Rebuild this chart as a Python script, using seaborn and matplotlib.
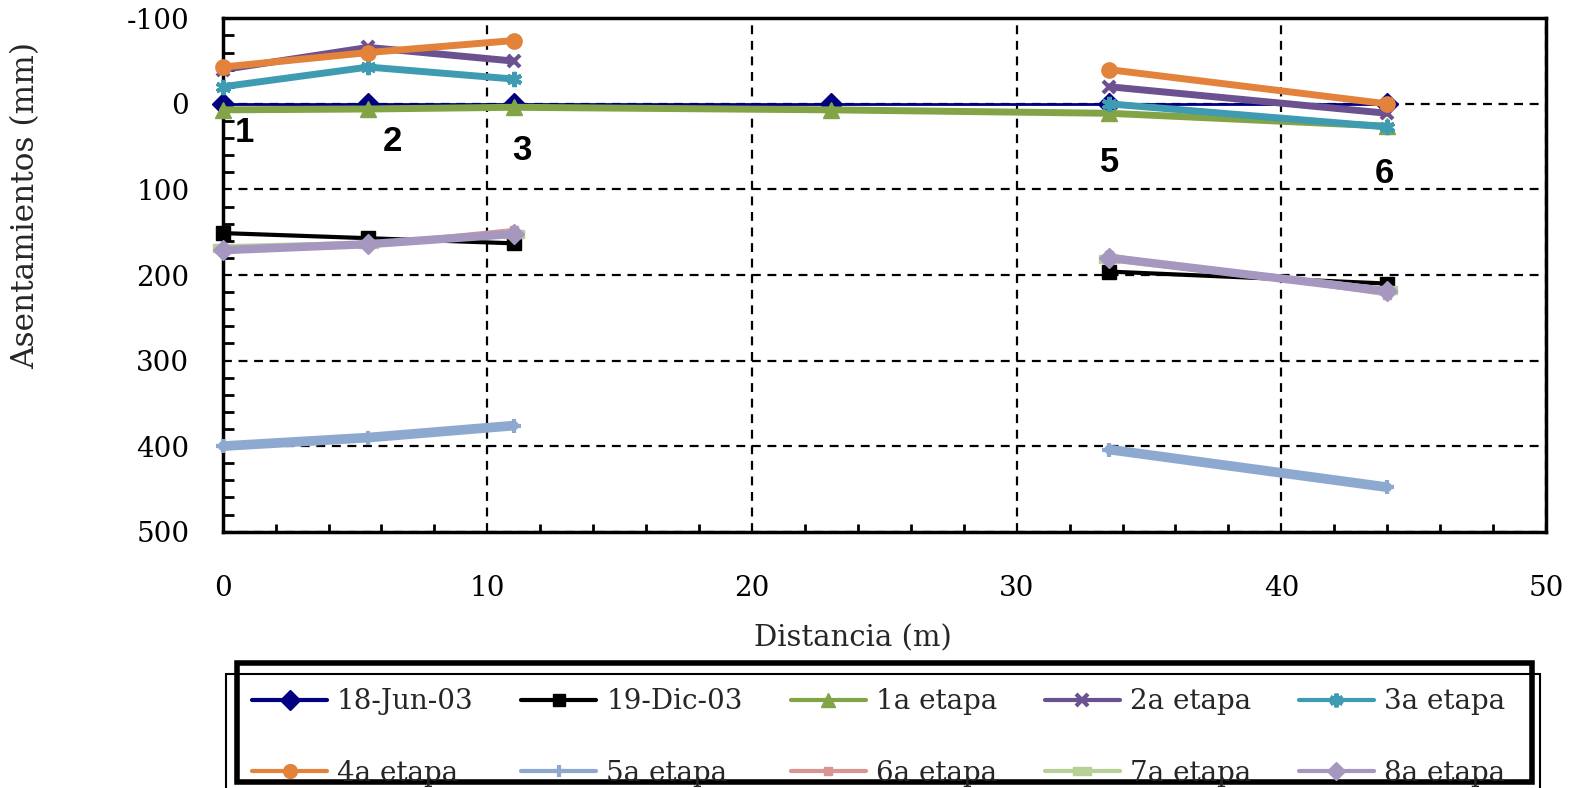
import numpy as np
import pandas as pd
import matplotlib
matplotlib.use("Agg")
import matplotlib.pyplot as plt
import seaborn as sns
from matplotlib.lines import Line2D
from matplotlib.patches import Rectangle
from matplotlib.path import Path

# ---------------- data ----------------
distancia = [0.0, 5.5, 11.0, 23.0, 33.5, 44.0]
nan = np.nan
s_18jun = [0, 0, 0, 0, 0, 0]
s_19dic = [151, 157, 163, nan, 196, 210]
s_1a = [7, 6, 4, 7, 11, 26]
s_2a = [-40, -66, -50, nan, -20, 11]
s_3a = [-20, -43, -29, nan, 0, 27]
s_4a = [-43, -60, -74, nan, -40, 0]
s_5a = [400, 390, 376, nan, 404, 448]
s_6a = [171, 164, 147, nan, 177, 223]
s_7a = [168, 164, 152, nan, 181, 218]
s_8a = [171, 164, 152, nan, 180, 219]
series_names = ["18-Jun-03", "19-Dic-03", "1a etapa", "2a etapa", "3a etapa",
                "4a etapa", "5a etapa", "6a etapa", "7a etapa", "8a etapa"]
series_values = [s_18jun, s_19dic, s_1a, s_2a, s_3a, s_4a, s_5a, s_6a, s_7a, s_8a]
punto_labels = ["1", "2", "3", "5", "6"]
punto_x = [0.84, 6.4, 11.3, 33.5, 43.9]
punto_y = [34, 44.5, 54, 69, 81]

# ---------------- styles ----------------
rect_marker = Path([(-1, -0.45), (1, -0.45), (1, 0.45), (-1, 0.45), (-1, -0.45)],
                   [Path.MOVETO, Path.LINETO, Path.LINETO, Path.LINETO, Path.CLOSEPOLY])
styles = [
    dict(color="#000080", lw=2.0, marker="D", ms=11),
    dict(color="#000000", lw=3.0, marker="s", ms=10),
    dict(color="#82A447", lw=5.0, marker="^", ms=11),
    dict(color="#6C5191", lw=5.0, marker="x", ms=9, mew=3),
    dict(color="#3E9BB2", lw=5.0, marker=(6, 2, 0), ms=11, mew=3),
    dict(color="#E3823A", lw=5.0, marker="o", ms=11),
    dict(color="#8EA9D0", lw=7.0, marker="+", ms=10, mew=3),
    dict(color="#D99592", lw=2.5, marker="s", ms=6),
    dict(color="#B7D097", lw=5.0, marker=rect_marker, ms=14),
    dict(color="#A597C0", lw=6.0, marker="D", ms=10),
]

sns.set_theme(style="white")
plt.rcParams["font.family"] = ["DejaVu Serif"]
plt.rcParams["axes.unicode_minus"] = False

fig = plt.figure(figsize=(15.77, 7.88), dpi=100)
ax = fig.add_axes([222.7 / 1577, 1 - 531.7 / 788, (1546 - 222.7) / 1577, (531.7 - 18.3) / 788])

for name, vals, st in zip(series_names, series_values, styles):
    df = pd.DataFrame({"x": distancia, "y": vals})
    df["seg"] = df["y"].isna().cumsum()
    df = df.dropna()
    sns.lineplot(data=df, x="x", y="y", units="seg", estimator=None, sort=False,
                 ax=ax, color=st["color"], linewidth=st["lw"], marker=st["marker"],
                 markersize=st["ms"], markeredgewidth=st.get("mew", 1),
                 markeredgecolor=st["color"], legend=False, zorder=3, clip_on=False)

for lab, px, py in zip(punto_labels, punto_x, punto_y):
    ax.text(px, py, lab, ha="center", va="center", fontsize=25, fontweight="bold",
            family="Liberation Sans", color="black", zorder=5)

ax.set_xlim(0, 50)
ax.set_ylim(500, -100)
ax.set_xticks(np.arange(0, 51, 10))
ax.set_yticks(np.arange(-100, 501, 100))
ax.set_xticks(np.arange(0, 51, 2), minor=True)
ax.set_yticks(np.arange(-100, 501, 20), minor=True)
ax.tick_params(axis="both", which="both", direction="in", colors="black")
ax.tick_params(axis="x", which="major", length=0, pad=31, labelsize=20)
ax.tick_params(axis="y", which="major", length=0, pad=24, labelsize=20)
ax.tick_params(axis="x", which="minor", length=6, width=2, bottom=True)
ax.tick_params(axis="y", which="minor", length=8, width=2, left=True)
ax.grid(True, which="major", color="black", linestyle=(0, (4, 3)), linewidth=1.6)
for sp in ax.spines.values():
    sp.set_visible(True)
    sp.set_color("black")
    sp.set_linewidth(2.5)
ax.set_axisbelow(True)

ax.set_xlabel("Distancia (m)", fontsize=21, labelpad=0)
ax.xaxis.set_label_coords(0.476, -0.18)
ax.set_ylabel("Asentamientos (mm)", fontsize=22.5)
ax.yaxis.set_label_coords(-0.137, 0.636)

handles = []
for name, st in zip(series_names, styles):
    handles.append(Line2D([], [], color=st["color"], lw=3,
                          marker=st["marker"], markersize=st["ms"] * 0.9,
                          markeredgewidth=st.get("mew", 1), markeredgecolor=st["color"]))
# matplotlib fills legend columns first: reorder so entries read row by row
order = [0, 5, 1, 6, 2, 7, 3, 8, 4, 9]
fig.legend([handles[i] for i in order], [series_names[i] for i in order],
           loc="center", bbox_to_anchor=(0.557, 0.064), ncol=5,
           frameon=False, fontsize=20, handlelength=2.7, handletextpad=0.36,
           columnspacing=1.72, labelspacing=1.6)

# double legend frame
fig.patches.append(Rectangle((237 / 1577, 1 - 782 / 788), (1532 - 237) / 1577, (782 - 663) / 788,
                             transform=fig.transFigure, fill=False, lw=4, ec="black"))
fig.patches.append(Rectangle((226 / 1577, -0.01), (1540 - 226) / 1577, 1 - 674 / 788 + 0.01,
                             transform=fig.transFigure, fill=False, lw=1.5, ec="black"))

fig.savefig("out.png", dpi=100, facecolor="white")
